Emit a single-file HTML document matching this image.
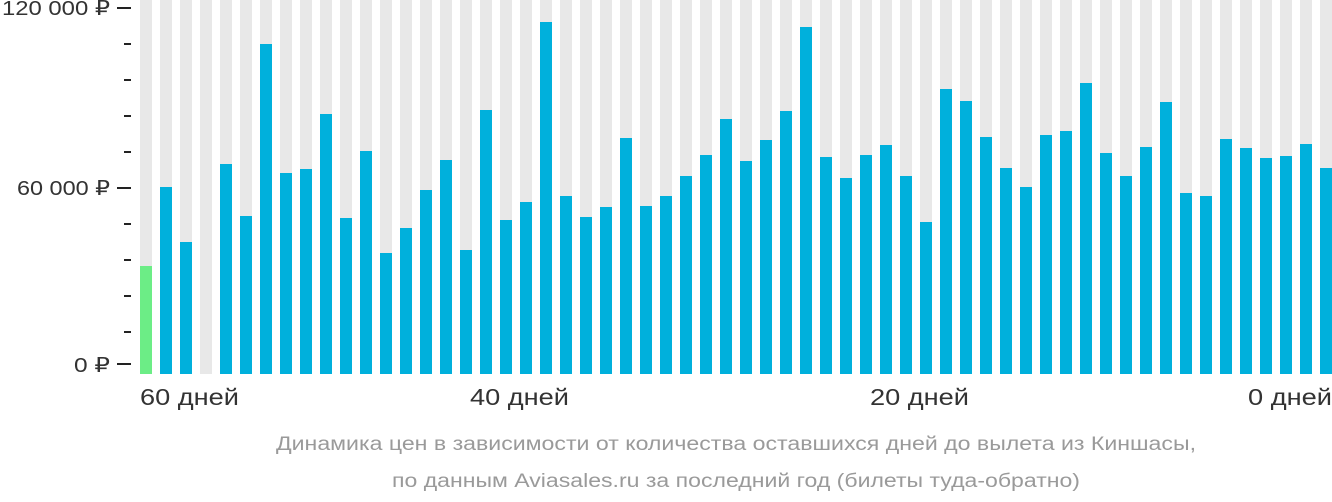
<!DOCTYPE html>
<html><head><meta charset="utf-8"><style>
html,body{margin:0;padding:0;background:#fff;}
svg{display:block;}
text{font-family:"Liberation Sans","DejaVu Sans",sans-serif;}
</style></head><body>
<svg width="1332" height="502" xmlns="http://www.w3.org/2000/svg">
<g id="bars"></g>
<g stroke="#222" stroke-width="2">
<line x1="117" y1="8" x2="131" y2="8"/><line x1="117" y1="188" x2="131" y2="188"/><line x1="117" y1="364" x2="131" y2="364"/>
<line x1="124" y1="44" x2="131" y2="44"/><line x1="124" y1="80" x2="131" y2="80"/><line x1="124" y1="116" x2="131" y2="116"/><line x1="124" y1="152" x2="131" y2="152"/>
<line x1="124" y1="224" x2="131" y2="224"/><line x1="124" y1="260" x2="131" y2="260"/><line x1="124" y1="296" x2="131" y2="296"/><line x1="124" y1="332" x2="131" y2="332"/>
</g>
<g fill="#333" font-size="20" text-anchor="end">
<text x="110" y="15" textLength="108" lengthAdjust="spacingAndGlyphs">120 000 ₽</text>
<text x="110" y="195" textLength="93" lengthAdjust="spacingAndGlyphs">60 000 ₽</text>
<text x="110" y="372" textLength="36" lengthAdjust="spacingAndGlyphs">0 ₽</text>
</g>
<g fill="#333" font-size="23">
<text x="140" y="405" textLength="99" lengthAdjust="spacingAndGlyphs">60 дней</text>
<text x="470" y="405" textLength="99" lengthAdjust="spacingAndGlyphs">40 дней</text>
<text x="870" y="405" textLength="99" lengthAdjust="spacingAndGlyphs">20 дней</text>
<text x="1248" y="405" textLength="84" lengthAdjust="spacingAndGlyphs">0 дней</text>
</g>
<g fill="#9a9a9a" font-size="19" text-anchor="middle">
<text x="736" y="450" textLength="920" lengthAdjust="spacingAndGlyphs">Динамика цен в зависимости от количества оставшихся дней до вылета из Киншасы,</text>
<text x="736" y="487" textLength="688" lengthAdjust="spacingAndGlyphs">по данным Aviasales.ru за последний год (билеты туда-обратно)</text>
</g>
</svg>
<script>
var tops=[266,187,242,null,164,216,44,173,169,114,218,151,253,228,190,160,250,110,220,202,22,196,217,207,138,206,196,176,155,119,161,140,111,27,157,178,155,145,176,222,89,101,137,168,187,135,131,83,153,176,147,102,193,196,139,148,158,156,144,168];
var g=document.getElementById('bars'),ns='http://www.w3.org/2000/svg',s='';
for(var i=0;i<60;i++){var x=140+20*i;
s+='<rect x="'+x+'" y="0" width="12" height="374" fill="#e8e8e8"/>';
if(tops[i]!==null)s+='<rect x="'+x+'" y="'+tops[i]+'" width="12" height="'+(374-tops[i])+'" fill="'+(i==0?'#6ced86':'#00b0dc')+'"/>';}
g.innerHTML=s;
</script>
</body></html>
